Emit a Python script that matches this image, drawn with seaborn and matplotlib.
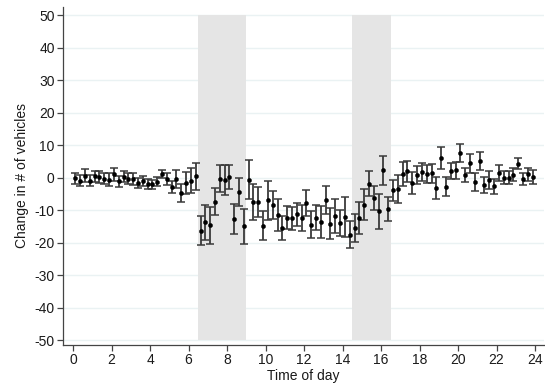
import numpy as np
import pandas as pd
import matplotlib
matplotlib.use("Agg")
import matplotlib.pyplot as plt
import seaborn as sns

# Quarter-hour bins (midpoints) across the day
hours = [0.125 + 0.25 * i for i in range(96)]

# Estimated change in vehicle counts per bin
change = [
    -0.2, -0.9, 0.6, -0.9, 0.4, 0.1, -0.4, -0.7, 1.1, -1.2, 0.3, -0.4, -0.5,
    -1.7, -1.1, -2.0, -2.1, -1.3, 1.1, -0.4, -2.9, -0.5, -4.8, -1.7, -1.0, 0.4,
    -16.3, -13.8, -14.6, -7.4, -0.3, -0.7, 0.2, -12.7, -4.4, -15.0, -0.7, -7.6,
    -7.6, -14.8, -7.0, -8.3, -11.5, -15.5, -12.3, -12.5, -11.3, -12.3, -7.8,
    -14.5, -12.3, -13.6, -7.0, -14.2, -11.8, -14.0, -12.2, -17.6, -15.6, -12.4,
    -8.3, -1.9, -6.2, -10.4, 2.2, -9.8, -3.9, -3.4, 1.1, 1.9, -1.7, 0.9, 1.6,
    1.1, 1.3, -3.2, 6.0, -2.8, 2.1, 2.2, 7.6, 0.8, 4.4, -1.4, 5.2, -2.2, -0.7,
    -2.7, 1.3, -0.1, -0.1, 0.9, 4.3, -0.4, 1.1, 0.1,
]

# Half-width of the 95% confidence interval per bin
ci_half = [
    1.7, 1.8, 2.0, 1.8, 1.7, 1.8, 1.7, 2.0, 2.0, 1.8, 1.8, 1.7, 1.8,
    1.6, 1.6, 1.5, 1.4, 1.4, 1.3, 1.8, 1.8, 2.8, 2.8, 3.3, 3.8, 4.1,
    4.5, 5.3, 5.7, 4.1, 4.1, 4.7, 3.7, 4.6, 4.4, 5.3, 6.0, 5.6,
    4.6, 4.5, 6.0, 4.3, 4.8, 3.6, 3.6, 3.6, 3.6, 4.0, 3.9,
    4.2, 3.8, 4.9, 4.3, 4.8, 5.3, 4.0, 6.2, 4.2, 4.3, 5.0,
    4.7, 3.8, 3.7, 5.3, 4.5, 3.7, 3.3, 4.3, 3.8, 3.2, 3.3, 2.8, 2.8,
    2.8, 3.0, 3.4, 3.3, 3.0, 2.5, 2.5, 2.8, 2.3, 3.0, 2.8, 2.8, 2.5, 2.7,
    2.2, 2.5, 2.0, 2.0, 2.0, 1.8, 1.8, 2.0, 2.2,
]

# Peak-hour windows (start, end)
peak_windows = [(6.5, 9.0), (14.5, 16.5)]
shade_range = (-50, 50)

x_ticks = list(range(0, 25, 2))
y_ticks = list(range(-50, 51, 10))

df = pd.DataFrame({"hour": hours, "change": change, "ci": ci_half})

sns.set_theme(style="white")
plt.rcParams["font.family"] = ["Liberation Sans", "DejaVu Sans"]
plt.rcParams["axes.unicode_minus"] = False

fig = plt.figure(figsize=(5.45, 3.88), dpi=100)
ax = fig.add_axes([0.1156, 0.111, 0.882, 0.871])

# light horizontal grid
for yv in y_ticks:
    ax.axhline(yv, color="#eaf2f3", lw=1.0, zorder=0)

# shaded peak windows
for a, b in peak_windows:
    ax.fill_between([a, b], shade_range[0], shade_range[1],
                    color="#e5e5e5", lw=0, zorder=1)

ax.errorbar(df["hour"], df["change"], yerr=df["ci"], fmt="none",
            ecolor="#3a3a3a", elinewidth=1.3, capsize=2.8, capthick=1.1,
            zorder=2)
sns.scatterplot(data=df, x="hour", y="change", ax=ax, color="black",
                s=9, edgecolor="black", linewidth=0.3, zorder=3, legend=False)

ax.set_xlim(-0.52, 24.45)
ax.set_ylim(-51.5, 52.5)
ax.set_xticks(x_ticks)
ax.set_yticks(y_ticks)
ax.set_xlabel("Time of day", fontsize=10, labelpad=1, color="#1a1a1a")
ax.set_ylabel("Change in # of vehicles", fontsize=10, labelpad=4, color="#1a1a1a")

for side in ["top", "right"]:
    ax.spines[side].set_visible(False)
for side in ["left", "bottom"]:
    ax.spines[side].set_color("#444444")
    ax.spines[side].set_linewidth(0.9)

ax.tick_params(axis="both", which="major", direction="out", length=4,
               width=0.9, color="#444444", labelsize=10, labelcolor="#1a1a1a",
               bottom=True, left=True, pad=2)

fig.savefig("out.png", dpi=100)
